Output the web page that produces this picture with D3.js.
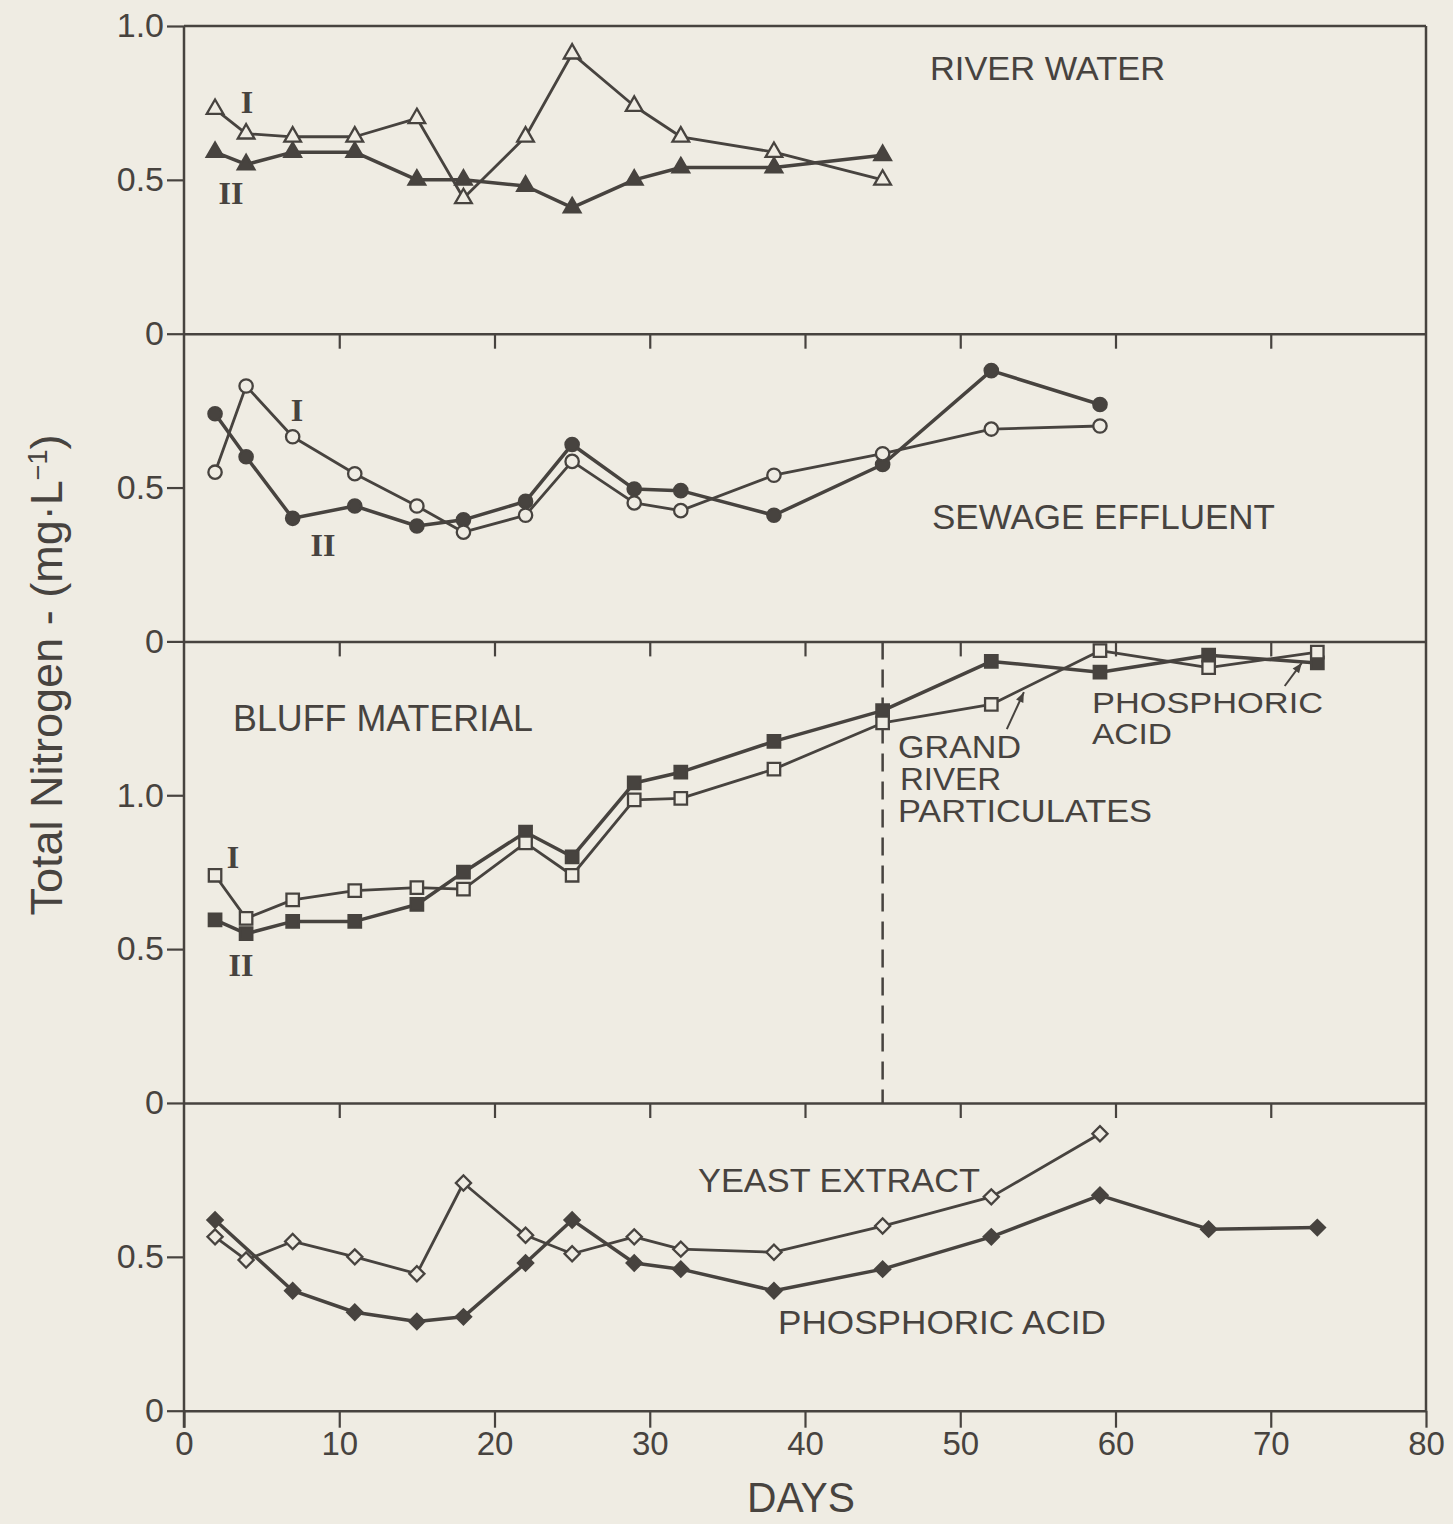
<!DOCTYPE html>
<html>
<head>
<meta charset="utf-8">
<title>Total Nitrogen</title>
<script src="https://d3js.org/d3.v7.min.js"></script>
<style>
  body { margin: 0; background: #efece3; }
  svg text { font-family: "Liberation Sans", Arial, sans-serif; fill: #47433f; }
</style>
</head>
<body>
<svg width="1453" height="1524"></svg>
<script>
// ---- data (days, mg/L) ----
var daysRiver = [2, 4, 7, 11, 15, 18, 22, 25, 29, 32, 38, 45];
var riverI    = [0.73, 0.65, 0.64, 0.64, 0.70, 0.44, 0.64, 0.91, 0.74, 0.64, 0.59, 0.50];
var riverII   = [0.59, 0.55, 0.59, 0.59, 0.50, 0.50, 0.48, 0.41, 0.50, 0.54, 0.54, 0.58];

var daysSewage = [2, 4, 7, 11, 15, 18, 22, 25, 29, 32, 38, 45, 52, 59];
var sewageI    = [0.55, 0.83, 0.665, 0.545, 0.44, 0.355, 0.41, 0.585, 0.45, 0.425, 0.54, 0.61, 0.69, 0.70];
var sewageII   = [0.74, 0.60, 0.40, 0.44, 0.375, 0.395, 0.455, 0.64, 0.495, 0.49, 0.41, 0.575, 0.88, 0.77];

var daysBluff = [2, 4, 7, 11, 15, 18, 22, 25, 29, 32, 38, 45, 52, 59, 66, 73];
var bluffI    = [0.74, 0.60, 0.66, 0.69, 0.70, 0.695, 0.845, 0.74, 0.985, 0.99, 1.085, 1.235, 1.295, 1.47, 1.415, 1.465];
var bluffII   = [0.595, 0.55, 0.59, 0.59, 0.645, 0.75, 0.88, 0.80, 1.04, 1.075, 1.175, 1.275, 1.435, 1.40, 1.455, 1.43];

var daysYeast = [2, 4, 7, 11, 15, 18, 22, 25, 29, 32, 38, 45, 52, 59];
var yeast     = [0.565, 0.49, 0.55, 0.50, 0.445, 0.74, 0.57, 0.51, 0.565, 0.525, 0.515, 0.60, 0.695, 0.90];
var daysPhos  = [2, 7, 11, 15, 18, 22, 25, 29, 32, 38, 45, 52, 59, 66, 73];
var phos      = [0.62, 0.39, 0.32, 0.29, 0.305, 0.48, 0.62, 0.48, 0.46, 0.39, 0.46, 0.565, 0.70, 0.59, 0.595];

var xTicks = [0, 10, 20, 30, 40, 50, 60, 70, 80];
var switchDay = 45;   // dashed line in bluff panel

var ink = "#47433f", paper = "#efece3";

var svg = d3.select("svg");
svg.append("rect").attr("width", 1453).attr("height", 1524).attr("fill", paper);

var x = d3.scaleLinear().domain([0, 80]).range([184, 1426]);
var unit = 307.7;   // px per 1 mg/L

// four stacked panels
var panels = [
  {top: 26,    max: 1.0, ticks: [0, 0.5, 1.0]},
  {top: 333.7, max: 1.0, ticks: [0, 0.5]},
  {top: 641.4, max: 1.5, ticks: [0, 0.5, 1.0]},
  {top: 1103,  max: 1.0, ticks: [0, 0.5]}
];
panels.forEach(p => {
  p.bottom = p.top + p.max * unit;
  p.y = d3.scaleLinear().domain([0, p.max]).range([p.bottom, p.top]);
});

var fmt = d => d === 0 ? "0" : d3.format(".1f")(d);

// frame
svg.append("line").attr("x1", x(0)).attr("x2", x(80)).attr("y1", 26).attr("y2", 26)
  .style("stroke", ink).style("stroke-width", 2.5);
svg.append("line").attr("x1", x(0)).attr("x2", x(0)).attr("y1", 26).attr("y2", panels[3].bottom + 17)
  .style("stroke", ink).style("stroke-width", 2.5);
svg.append("line").attr("x1", x(80)).attr("x2", x(80)).attr("y1", 26).attr("y2", panels[3].bottom)
  .style("stroke", ink).style("stroke-width", 2.5);

// y axes
panels.forEach(p => {
  var g = svg.append("g").attr("transform", `translate(${x(0)},0)`)
    .call(d3.axisLeft(p.y).tickValues(p.ticks).tickFormat(fmt).tickSize(17).tickPadding(3).tickSizeOuter(0));
  g.select(".domain").remove();
  g.selectAll("line").style("stroke", ink).style("stroke-width", 2.2);
  g.selectAll("text").style("font-size", "34px").style("fill", ink).style("font-family", '"Liberation Sans", Arial, sans-serif');
});

// panel separators with inner ticks (pointing down into the panel below)
panels.slice(1).forEach(p => {
  var g = svg.append("g").attr("transform", `translate(0,${p.top})`)
    .call(d3.axisBottom(x).tickValues(xTicks.slice(1, -1)).tickFormat("").tickSize(15).tickSizeOuter(0));
  g.select(".domain").style("stroke", ink).style("stroke-width", 2.5);
  g.selectAll("line").style("stroke", ink).style("stroke-width", 2.2);
});

// bottom x axis
var xg = svg.append("g").attr("transform", `translate(0,${panels[3].bottom})`)
  .call(d3.axisBottom(x).tickValues(xTicks).tickSize(17).tickPadding(4).tickSizeOuter(0));
xg.select(".domain").style("stroke", ink).style("stroke-width", 2.5);
xg.selectAll("line").style("stroke", ink).style("stroke-width", 2.2);
xg.selectAll("text").style("font-size", "33px").style("fill", ink).style("font-family", '"Liberation Sans", Arial, sans-serif');

// dashed separator in bluff panel
svg.append("line")
  .attr("x1", x(switchDay)).attr("x2", x(switchDay))
  .attr("y1", panels[2].top).attr("y2", panels[2].bottom)
  .style("stroke", ink).style("stroke-width", 2.5).style("stroke-dasharray", "18,10");

// series
var series = [
  {p: 0, days: daysRiver,  vals: riverII,  shape: "tri",  filled: true},
  {p: 0, days: daysRiver,  vals: riverI,   shape: "tri",  filled: false},
  {p: 1, days: daysSewage, vals: sewageII, shape: "circ", filled: true},
  {p: 1, days: daysSewage, vals: sewageI,  shape: "circ", filled: false},
  {p: 2, days: daysBluff,  vals: bluffII,  shape: "sq",   filled: true},
  {p: 2, days: daysBluff,  vals: bluffI,   shape: "sq",   filled: false},
  {p: 3, days: daysYeast,  vals: yeast,    shape: "dia",  filled: false},
  {p: 3, days: daysPhos,   vals: phos,     shape: "dia",  filled: true}
];

var symbols = {
  tri:  d3.symbol().type(d3.symbolTriangle).size(120),
  circ: d3.symbol().type(d3.symbolCircle).size(140),
  sq:   d3.symbol().type(d3.symbolSquare).size(155),
  dia:  d3.symbol().type(d3.symbolSquare).size(115)
};

series.forEach(s => {
  var y = panels[s.p].y;
  var pts = s.days.map((d, i) => [d, s.vals[i]]);
  svg.append("path")
    .datum(pts)
    .attr("d", d3.line().x(d => x(d[0])).y(d => y(d[1])))
    .style("fill", "none").style("stroke", ink)
    .style("stroke-width", s.filled ? 3.5 : 2.8)
    .style("stroke-linejoin", "round");
  svg.append("g").selectAll("path")
    .data(pts).enter().append("path")
    .attr("d", symbols[s.shape])
    .attr("transform", d => `translate(${x(d[0])},${y(d[1])})` + (s.shape === "dia" ? " rotate(45)" : ""))
    .style("fill", s.filled ? ink : paper)
    .style("stroke", ink).style("stroke-width", 2.3);
});

// arrows in bluff panel (pointing at Grand River and phosphoric acid curves)
var arrows = [
  {from: [53.0, 1.215], to: [54.1, 1.335]},
  {from: [70.9, 1.355], to: [72.0, 1.430]}
];
var yb = panels[2].y;
arrows.forEach(a => {
  var x1 = x(a.from[0]), y1 = yb(a.from[1]), x2 = x(a.to[0]), y2 = yb(a.to[1]);
  var ang = Math.atan2(y2 - y1, x2 - x1) * 180 / Math.PI;
  svg.append("line").attr("x1", x1).attr("y1", y1).attr("x2", x2).attr("y2", y2)
    .style("stroke", ink).style("stroke-width", 2);
  svg.append("path").attr("d", "M0,0L-10,-4L-10,4Z")
    .attr("transform", `translate(${x2},${y2}) rotate(${ang})`)
    .style("fill", ink);
});

// text labels
function label(txt, px, py, size, len) {
  var t = svg.append("text").attr("x", px).attr("y", py).text(txt)
    .style("font-size", size + "px");
  if (len) t.attr("textLength", len).attr("lengthAdjust", "spacingAndGlyphs");
  return t;
}
label("RIVER WATER", 930, 80, 33, 235);
label("SEWAGE EFFLUENT", 932, 529, 35, 343);
label("BLUFF MATERIAL", 233, 731, 36, 300);
label("GRAND", 898, 758, 31, 123);
label("RIVER", 900, 790, 31, 101);
label("PARTICULATES", 898, 822, 31, 254);
label("PHOSPHORIC", 1092, 713, 30, 231);
label("ACID", 1092, 744, 30, 80);
label("YEAST EXTRACT", 698, 1192, 33, 282);
label("PHOSPHORIC ACID", 778, 1334, 34, 328);
label("DAYS", 747, 1512, 42, 108);

// roman numerals
var numerals = [
  ["I", 247, 102], ["II", 231, 193],
  ["I", 297, 410], ["II", 323, 545],
  ["I", 233, 857], ["II", 241, 965]
];
numerals.forEach(n => {
  svg.append("text").attr("x", n[1]).attr("y", n[2]).attr("dy", "0.35em")
    .attr("text-anchor", "middle").text(n[0])
    .style("font-family", '"Liberation Serif", "Times New Roman", serif')
    .style("font-weight", "bold").style("font-size", "32px");
});

// y axis title
var yt = svg.append("text")
  .attr("transform", "translate(62,675) rotate(-90)")
  .attr("text-anchor", "middle")
  .style("font-size", "45px");
yt.append("tspan").text("Total Nitrogen - (mg\u00b7L");
yt.append("tspan").text("\u22121").attr("baseline-shift", "super").style("font-size", "27px");
yt.append("tspan").text(")");
</script>
</body>
</html>
